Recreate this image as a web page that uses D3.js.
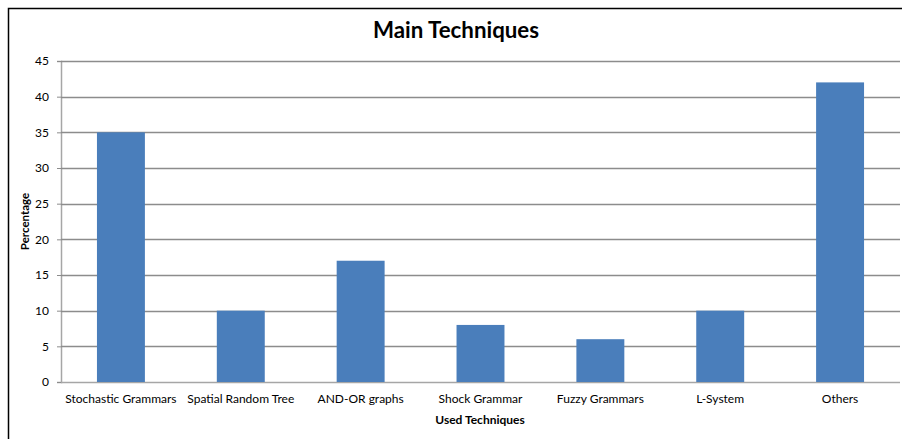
<!DOCTYPE html>
<html>
<head>
<meta charset="utf-8">
<script src="https://cdn.jsdelivr.net/npm/d3@7"></script>
<style>
  html, body { margin: 0; padding: 0; background: #fff; }
  svg { display: block; }
  text { font-family: Lato, "Open Sans", sans-serif; fill: #000; }
</style>
</head>
<body>
<svg id="chart" width="902" height="439"></svg>
<script>
// Share of each technique in the surveyed work
const categories = ["Stochastic Grammars", "Spatial Random Tree", "AND-OR graphs",
                    "Shock Grammar", "Fuzzy Grammars", "L-System", "Others"];
const percentages = [35, 10, 17, 8, 6, 10, 42];
const yTicks = [0, 5, 10, 15, 20, 25, 30, 35, 40, 45];

const svg = d3.select("#chart");
const plot = { left: 61, right: 900, top: 61, bottom: 382 };

// Chart frame
svg.append("rect")
  .attr("x", 8.5).attr("y", 8.5)
  .attr("width", 895).attr("height", 440)
  .attr("fill", "#fff").attr("stroke", "#000").attr("stroke-width", 1.5);

const x = d3.scaleBand()
  .domain(categories)
  .range([plot.left, plot.right])
  .paddingInner(0.6)
  .paddingOuter(0.3);

const y = d3.scaleLinear()
  .domain([0, 45])
  .range([plot.bottom, plot.top]);

// Vertical axis with tick labels
const yAxis = svg.append("g")
  .attr("transform", `translate(${plot.left},0)`)
  .call(d3.axisLeft(y).tickValues(yTicks).tickSize(4).tickPadding(8));
yAxis.select(".domain").attr("stroke", "#a6a6a6").attr("stroke-width", 1.5);
yAxis.selectAll(".tick line").attr("stroke", "#8c8c8c");
yAxis.selectAll(".tick text").attr("font-size", 12);

// Horizontal gridlines
svg.append("g")
  .selectAll("line")
  .data(yTicks)
  .join("line")
  .attr("x1", plot.left).attr("x2", plot.right)
  .attr("y1", d => Math.round(y(d)) + 0.5).attr("y2", d => Math.round(y(d)) + 0.5)
  .attr("stroke", d => d === 0 ? "#a6a6a6" : "#8c8c8c")
  .attr("stroke-width", 1.5);

// Bars
svg.append("g")
  .selectAll("rect")
  .data(percentages)
  .join("rect")
  .attr("x", (d, i) => x(categories[i]))
  .attr("y", d => y(d))
  .attr("width", x.bandwidth())
  .attr("height", d => y(0) - y(d))
  .attr("fill", "#4a7ebb");

// Category labels
const xAxis = svg.append("g")
  .attr("transform", `translate(0,${plot.bottom})`)
  .call(d3.axisBottom(x).tickSize(0).tickPadding(12));
xAxis.select(".domain").remove();
xAxis.selectAll(".tick text").attr("font-size", 12);

// Titles
svg.append("text")
  .attr("x", 456).attr("y", 38)
  .attr("text-anchor", "middle")
  .attr("font-size", 22.3).attr("font-weight", "bold")
  .text("Main Techniques");

svg.append("text")
  .attr("x", 480).attr("y", 424)
  .attr("text-anchor", "middle")
  .attr("font-size", 12).attr("font-weight", "bold")
  .text("Used Techniques");

svg.append("text")
  .attr("transform", `translate(29,${(plot.top + plot.bottom) / 2}) rotate(-90)`)
  .attr("text-anchor", "middle")
  .attr("font-size", 11.5).attr("font-weight", "bold")
  .text("Percentage");
</script>
</body>
</html>
